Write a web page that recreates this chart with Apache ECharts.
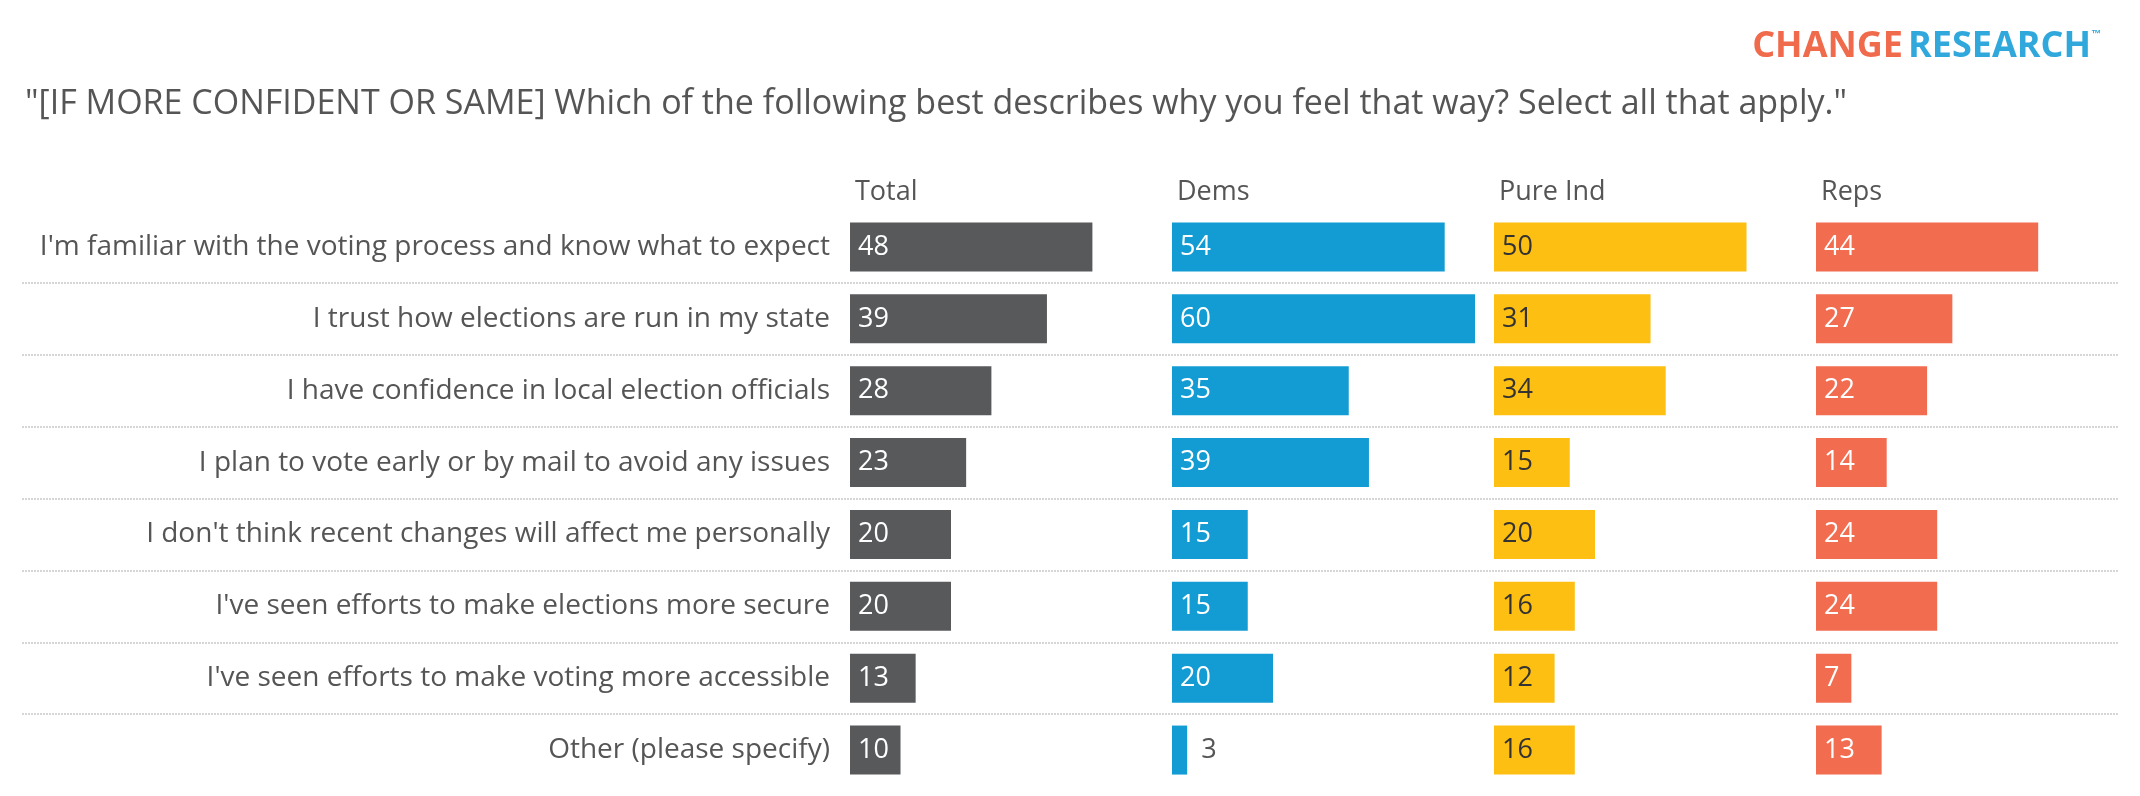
<!DOCTYPE html>
<html>
<head>
<meta charset="utf-8">
<script src="https://cdn.jsdelivr.net/npm/echarts@6/dist/echarts.min.js"></script>
<style>
  html, body { margin: 0; padding: 0; background: #fff; }
  #chart { width: 2140px; height: 796px; }
</style>
</head>
<body>
<div id="chart"></div>
<script>
// Survey reasons, one bar column per group.
const categories = [
  "I'm familiar with the voting process and know what to expect",
  "I trust how elections are run in my state",
  "I have confidence in local election officials",
  "I plan to vote early or by mail to avoid any issues",
  "I don't think recent changes will affect me personally",
  "I've seen efforts to make elections more secure",
  "I've seen efforts to make voting more accessible",
  "Other (please specify)",
];
const groups = ["Total", "Dems", "Pure Ind", "Reps"];
const total = [48, 39, 28, 23, 20, 20, 13, 10];
const dems = [54, 60, 35, 39, 15, 15, 20, 3];
const pureInd = [50, 31, 34, 15, 20, 16, 12, 16];
const reps = [44, 27, 22, 14, 24, 24, 7, 13];

const values = [total, dems, pureInd, reps];
const COLORS = ["#58595b", "#139cd3", "#fdbf11", "#f26c50"];
const LABEL_COLORS = ["#fff", "#fff", "#333", "#fff"];
const FONT = "'Open Sans', Lato, sans-serif";

const LEFT0 = 850, STEP = 322, W = 303, TOP = 211, H = 575;

const chart = echarts.init(document.getElementById("chart"), null, { renderer: "canvas" });

const grids = [], xAxes = [], yAxes = [], series = [];
const titles = [
  {
    text: "{c|CHANGE} {r|RESEARCH}{tm|™}", right: 34, top: 24,
    textStyle: { rich: {
      c: { color: "#f06a4c", fontSize: 36, fontWeight: "bold", fontFamily: "'Open Sans', sans-serif" },
      r: { color: "#30a8dc", fontSize: 36, fontWeight: "bold", fontFamily: "'Open Sans', sans-serif" },
      tm: { color: "#30a8dc", fontSize: 10, verticalAlign: "top" },
    } },
  },
  {
    text: '"[IF MORE CONFIDENT OR SAME] Which of the following best describes why you feel that way? Select all that apply."',
    left: 20, top: 82,
    textStyle: { color: "#555", fontSize: 34, fontWeight: "normal", fontFamily: FONT },
  },
];

// Full-width background grid just for the dotted row separators.
grids.push({ left: 22, right: 22, top: TOP, height: H });
xAxes.push({ gridIndex: 0, type: "value", show: false });
yAxes.push({
  gridIndex: 0, type: "category", data: categories, inverse: true,
  axisLine: { show: false }, axisTick: { show: false }, axisLabel: { show: false },
  splitLine: { show: true, showMinLine: false, showMaxLine: false,
               lineStyle: { color: "#d6d6d6", type: [2, 1], width: 2 } },
});

groups.forEach((g, i) => {
  const gi = i + 1;
  const left = LEFT0 + STEP * i;
  grids.push({ left: left, width: W, top: TOP, height: H });
  xAxes.push({ gridIndex: gi, type: "value", min: 0, max: 60, show: false });
  yAxes.push({
    gridIndex: gi, type: "category", data: categories, inverse: true,
    axisLine: { show: false }, axisTick: { show: false },
    axisLabel: { show: i === 0, color: "#555", fontSize: 28, fontFamily: FONT, margin: 20 },
  });
  titles.push({
    text: g, left: left, top: 174,
    textStyle: { color: "#555", fontSize: 27, fontWeight: "normal", fontFamily: FONT },
  });
  series.push({
    type: "bar", xAxisIndex: gi, yAxisIndex: gi, barWidth: 49,
    itemStyle: { color: COLORS[i] },
    data: values[i].map((v) => v < 6
      ? { value: v, label: { position: "right", color: "#555", distance: 14 } }
      : v),
    label: {
      show: true, position: "insideLeft", distance: 8,
      color: LABEL_COLORS[i], fontSize: 27, fontFamily: FONT,
    },
    silent: true, animation: false,
  });
});

chart.setOption({
  title: titles,
  grid: grids,
  xAxis: xAxes,
  yAxis: yAxes,
  series: series,
});
</script>
</body>
</html>
